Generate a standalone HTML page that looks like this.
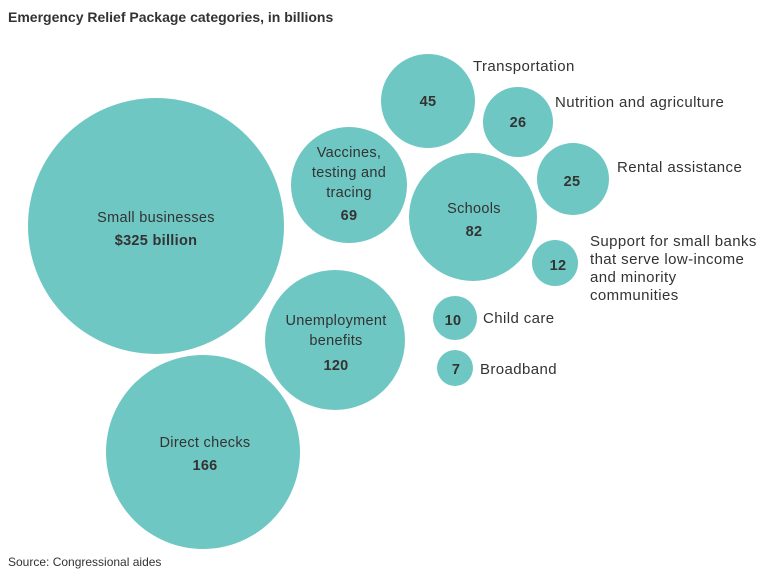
<!DOCTYPE html>
<html><head><style>
body{margin:0;background:#fff;width:779px;height:574px;overflow:hidden;font-family:"Liberation Sans",sans-serif;}
svg text{font-family:"Liberation Sans",sans-serif;fill:#333;}
</style></head><body>
<svg width="779" height="574" xmlns="http://www.w3.org/2000/svg">
<text x="8" y="22" font-size="14" font-weight="bold" fill="#222">Emergency Relief Package categories, in billions</text>
<g fill="#6fc7c3">
<circle cx="156" cy="226" r="128"/>
<circle cx="203" cy="452" r="97"/>
<circle cx="335" cy="340" r="70"/>
<circle cx="349" cy="185" r="58"/>
<circle cx="473" cy="217" r="64"/>
<circle cx="428" cy="101" r="47"/>
<circle cx="518" cy="122" r="35"/>
<circle cx="573" cy="179" r="36"/>
<circle cx="555" cy="263" r="23"/>
<circle cx="455" cy="318" r="22"/>
<circle cx="455" cy="368" r="18"/>
</g>
<g font-size="14.5" text-anchor="middle" letter-spacing="0.3">
<text x="156" y="222">Small businesses</text>
<text x="156" y="245" font-weight="bold">$325 billion</text>
<text x="205" y="447">Direct checks</text>
<text x="205" y="470" font-weight="bold">166</text>
<text x="336" y="325">Unemployment</text>
<text x="336" y="345">benefits</text>
<text x="336" y="370" font-weight="bold">120</text>
<text x="349" y="157">Vaccines,</text>
<text x="349" y="177">testing and</text>
<text x="349" y="197">tracing</text>
<text x="349" y="220" font-weight="bold">69</text>
<text x="474" y="213">Schools</text>
<text x="474" y="236" font-weight="bold">82</text>
<text x="428" y="106" font-weight="bold">45</text>
<text x="518" y="127" font-weight="bold">26</text>
<text x="572" y="186" font-weight="bold">25</text>
<text x="558" y="270" font-weight="bold">12</text>
<text x="453" y="325" font-weight="bold">10</text>
<text x="456" y="374" font-weight="bold">7</text>
</g>
<g font-size="15" letter-spacing="0.4">
<text x="473" y="71">Transportation</text>
<text x="555" y="107">Nutrition and agriculture</text>
<text x="617" y="172">Rental assistance</text>
<text x="590" y="246">Support for small banks</text>
<text x="590" y="264">that serve low-income</text>
<text x="590" y="282">and minority</text>
<text x="590" y="300">communities</text>
<text x="483" y="323">Child care</text>
<text x="480" y="374">Broadband</text>
</g>
<text x="8" y="566" font-size="12" fill="#555">Source: Congressional aides</text>
</svg>
</body></html>
